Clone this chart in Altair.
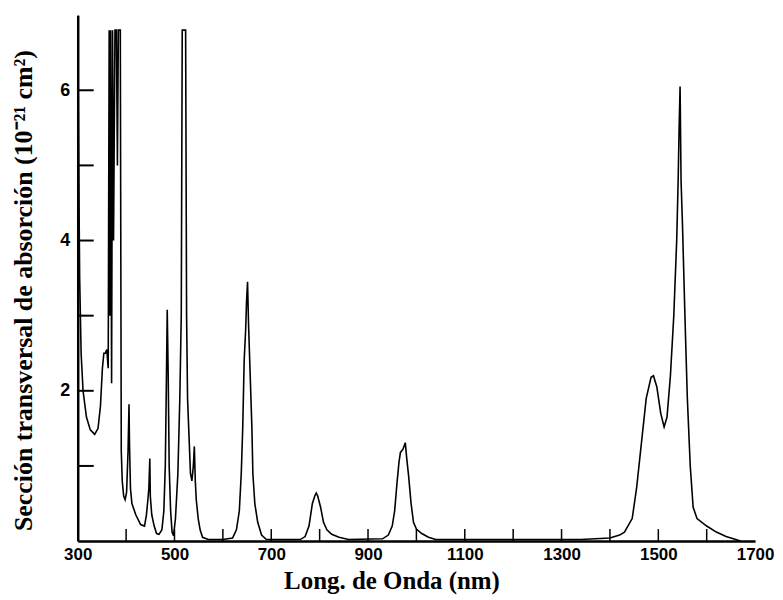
import altair as alt
import pandas as pd

# Absorption cross-section spectrum
wavelength_nm = [
    300, 302, 304, 307, 311, 318, 326, 335, 342, 347, 351, 354, 357, 360, 363,
    365, 366.5, 368, 370, 372, 374, 377, 380, 382, 384, 388, 390, 392, 395, 398,
    401, 404, 406, 407, 409, 412, 420, 430, 438, 442, 445, 447, 449, 450, 453,
    458, 463, 468, 474, 478, 481, 483, 485, 487, 489, 492, 495, 498, 502, 507,
    511, 514, 516, 519, 523, 525, 527, 530, 533, 536, 539, 541, 543, 545, 549,
    553, 558, 570, 600, 620, 628, 634, 638, 641, 644, 647, 649, 651, 653, 656,
    660, 662, 666, 672, 680, 690, 760, 770, 778, 785, 790, 793, 796, 802, 808,
    815, 825, 840, 860, 930, 942, 950, 955, 960, 964, 967, 972, 977, 980, 984,
    989, 994, 1000, 1011, 1025, 1040, 1340, 1400, 1420, 1430, 1446, 1455, 1465,
    1475, 1485, 1490, 1497, 1505, 1512, 1518, 1525, 1532, 1538, 1541, 1543, 1545,
    1547, 1550, 1555, 1560, 1566, 1572, 1580, 1600, 1620, 1640, 1660, 1670,
]
cross_section = [
    7.0, 5.0, 3.5, 2.5, 2.0, 1.65, 1.48, 1.42, 1.5, 1.8, 2.3, 2.5, 2.5, 2.55, 2.3,
    6.8, 3.0, 6.8, 2.1, 6.8, 4.0, 6.8, 6.8, 5.0, 6.8, 6.8, 1.2, 0.8, 0.6, 0.55,
    0.65, 1.2, 1.82, 1.3, 0.7, 0.5, 0.35, 0.22, 0.2, 0.35, 0.55, 0.7, 1.1, 0.6, 0.35,
    0.2, 0.1, 0.09, 0.15, 0.4, 1.0, 2.0, 3.08, 2.2, 1.0, 0.4, 0.12, 0.07, 0.3, 0.9,
    1.9, 3.0, 6.8, 6.8, 6.8, 3.0, 1.9, 1.4, 0.9, 0.8, 1.0, 1.26, 0.8, 0.55, 0.3,
    0.15, 0.05, 0.02, 0.02, 0.04, 0.15, 0.4, 0.9, 1.5, 2.4, 2.8, 3.2, 3.45, 2.9, 2.3,
    1.5, 0.9, 0.5, 0.25, 0.08, 0.02, 0.02, 0.06, 0.2, 0.5, 0.6, 0.64, 0.6, 0.45, 0.25,
    0.15, 0.09, 0.05, 0.02, 0.03, 0.08, 0.2, 0.4, 0.78, 1.05, 1.18, 1.22, 1.31, 1.1, 0.86,
    0.5, 0.25, 0.16, 0.1, 0.05, 0.02, 0.02, 0.04, 0.08, 0.12, 0.3, 0.7, 1.3,
    1.9, 2.18, 2.2, 2.05, 1.7, 1.52, 1.65, 2.2, 3.0, 4.0, 4.8, 5.5, 6.05,
    4.8, 4.2, 3.0, 1.9, 1.0, 0.45, 0.3, 0.2, 0.12, 0.06, 0.02, 0.0,
]

x_label_values = [300, 500, 700, 900, 1100, 1300, 1500, 1700]
x_tick_values = [400, 500, 600, 700, 800, 900, 1000, 1100, 1200, 1300, 1400, 1500, 1600]
y_label_values = [2, 4, 6]
y_tick_values = [1, 2, 3, 4, 5, 6]

spectrum = pd.DataFrame({"nm": wavelength_nm, "s": cross_section})
xticks = pd.DataFrame({"nm": x_tick_values})
yticks = pd.DataFrame({"s": y_tick_values})

xscale = alt.Scale(domain=[300, 1700], nice=False, zero=False)
yscale = alt.Scale(domain=[0, 7], nice=False, zero=True)

line = alt.Chart(spectrum).mark_line(color="black", strokeWidth=1.6, clip=True).encode(
    x=alt.X(
        "nm:Q",
        scale=xscale,
        axis=alt.Axis(
            values=x_label_values,
            format="d",
            title="Long. de Onda (nm)",
            domain=True,
            ticks=False,
            tickSize=0,
            labelPadding=6,
            labelFlush=False,
            labelOverlap=False,
            labelFontSize=17,
            titleFontSize=25,
            titleX=315,
            titleY=40,
            titleAlign="center",
            titleBaseline="middle",
        ),
    ),
    y=alt.Y(
        "s:Q",
        scale=yscale,
        axis=alt.Axis(
            values=y_label_values,
            format="d",
            title="Sección transversal de absorción (10⁻²¹ cm²)",
            domain=True,
            ticks=False,
            tickSize=0,
            labelPadding=8,
            labelFlush=False,
            labelOverlap=False,
            labelFontSize=18,
            titleFontSize=26,
            titleX=-54,
            titleY=276,
            titleAngle=270,
            titleAlign="center",
            titleBaseline="middle",
        ),
    ),
)

xtick_layer = alt.Chart(xticks).mark_rule(color="black", strokeWidth=1.5).encode(
    x=alt.X("nm:Q", scale=xscale),
    y=alt.datum(0),
    y2=alt.datum(0.16),
)

ytick_layer = alt.Chart(yticks).mark_rule(color="black", strokeWidth=2).encode(
    y=alt.Y("s:Q", scale=yscale),
    x=alt.datum(300),
    x2=alt.datum(333),
)

chart = (
    alt.layer(line, xtick_layer, ytick_layer)
    .properties(
        width=680,
        height=528,
        autosize=alt.AutoSizeParams(type="none"),
        padding={"left": 70, "top": 6, "right": 20, "bottom": 58},
        background="white",
    )
    .configure_axis(
        grid=False,
        domainColor="black",
        domainWidth=2.5,
        labelFont="Liberation Sans",
        labelFontWeight="bold",
        labelColor="black",
        titleFont="Liberation Serif",
        titleFontWeight="bold",
        titleColor="black",
    )
    .configure_view(stroke=None)
)

chart.save("out.html", embed_options={"renderer": "svg", "actions": False})
